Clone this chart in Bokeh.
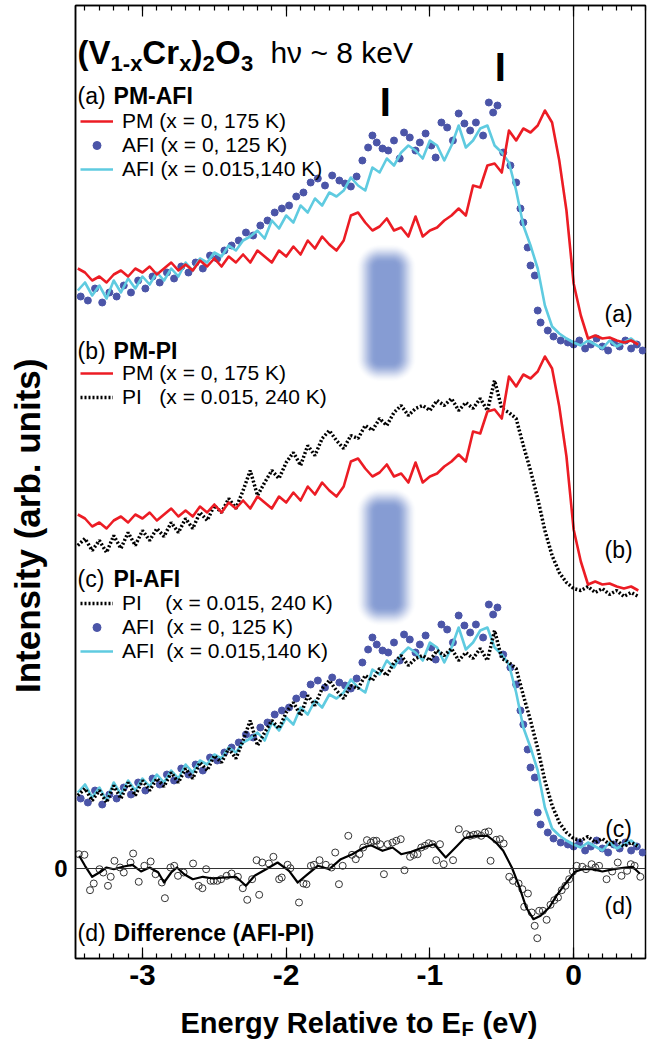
import numpy as np
from bokeh.plotting import figure
from bokeh.layouts import column
from bokeh.models import (Range1d, LinearAxis, FixedTicker, SingleIntervalTicker, Label,
                          Legend, LegendItem, Span)
from bokeh.embed import file_html
from bokeh.resources import INLINE

# ---------------- data ----------------
# common energy grid (eV) for the line spectra
E_GRID = np.round(np.arange(-3.45, 0.451, 0.05), 2)

# PM (x = 0, 175 K) intensity above its own background
PM_I = [0.74, 0.70, 0.62, 0.66, 0.60, 0.68, 0.72, 0.66, 0.74, 0.70,
        0.76, 0.68, 0.74, 0.80, 0.72, 0.78, 0.72, 0.82, 0.76, 0.84,
        0.76, 0.86, 0.80, 0.88, 0.80, 0.92, 0.86, 0.80, 0.92, 0.86,
        0.96, 0.88, 1.02, 0.94, 1.06, 0.98, 0.92, 1.02, 1.27, 1.30,
        1.20, 1.12, 1.16, 1.24, 1.12, 1.15, 1.06, 1.26, 1.06, 1.12,
        1.15, 1.22, 1.27, 1.34, 1.27, 1.57, 1.55, 1.77, 1.79, 1.70,
        2.12, 2.02, 2.14, 2.10, 2.17, 2.32, 2.20, 1.82, 1.32, 0.59,
        0.27, 0.04, 0.07, 0.04, 0.05, 0.02, 0.00, 0.02, -0.02]

# AFI (x = 0.015, 140 K)
AFI015_I = [0.52, 0.60, 0.47, 0.57, 0.44, 0.62, 0.50, 0.64, 0.54, 0.66,
            0.58, 0.70, 0.62, 0.74, 0.66, 0.80, 0.72, 0.84, 0.80, 0.90,
            0.86, 0.97, 0.92, 1.02, 1.06, 1.12, 1.04, 1.22, 1.14, 1.27,
            1.20, 1.37, 1.30, 1.44, 1.37, 1.50, 1.46, 1.52, 1.65, 1.57,
            1.52, 1.75, 1.70, 1.84, 1.77, 1.90, 1.97, 1.92, 1.84, 2.02,
            1.97, 1.82, 1.97, 2.17, 1.95, 2.02, 2.14, 2.17, 1.97, 1.90,
            1.80, 1.52, 1.17, 0.97, 0.74, 0.37, 0.16, 0.09, 0.04, 0.00,
            -0.03, 0.02, -0.02, -0.06, 0.02, -0.04, 0.00, 0.04, -0.02]

# PI (x = 0.015, 240 K)
PI_I = [0.45, 0.52, 0.40, 0.50, 0.38, 0.55, 0.42, 0.58, 0.45, 0.60,
        0.50, 0.62, 0.54, 0.68, 0.58, 0.72, 0.62, 0.78, 0.70, 0.85,
        0.78, 0.92, 0.82, 1.00, 1.20, 0.95, 1.08, 1.20, 1.12, 1.28,
        1.38, 1.25, 1.45, 1.35, 1.52, 1.60, 1.50, 1.42, 1.55, 1.52,
        1.65, 1.60, 1.72, 1.65, 1.78, 1.85, 1.75, 1.82, 1.85, 1.80,
        1.90, 1.85, 1.92, 1.80, 1.88, 1.82, 1.92, 1.80, 2.10, 1.82,
        1.78, 1.72, 1.45, 1.20, 0.92, 0.60, 0.35, 0.18, 0.08, 0.02,
        0.00, 0.04, -0.02, 0.02, -0.04, 0.00, -0.06, -0.02, -0.06]

# AFI (x = 0, 125 K) points
AFI0_E = [-3.43, -3.38, -3.33, -3.28, -3.23, -3.18, -3.13, -3.08, -3.03, -2.98,
          -2.93, -2.88, -2.83, -2.78, -2.73, -2.68, -2.63, -2.58, -2.53, -2.48,
          -2.43, -2.38, -2.33, -2.28, -2.23, -2.18, -2.13, -2.08, -2.03, -1.98,
          -1.93, -1.88, -1.83, -1.78, -1.73, -1.68, -1.63, -1.59, -1.55, -1.51,
          -1.47, -1.43, -1.40, -1.37, -1.33, -1.29, -1.25, -1.21, -1.18, -1.14,
          -1.10, -1.07, -1.03, -0.99, -0.96, -0.92, -0.88, -0.84, -0.80, -0.76,
          -0.72, -0.68, -0.63, -0.59, -0.56, -0.53, -0.49, -0.44, -0.40, -0.37,
          -0.35, -0.32, -0.30, -0.27, -0.25, -0.23, -0.18, -0.14, -0.09, -0.04,
          0.00, 0.04, 0.08, 0.12, 0.16, 0.20, 0.24, 0.28, 0.32, 0.36,
          0.40, 0.44, 0.48]
AFI0_I = [0.46, 0.42, 0.54, 0.40, 0.50, 0.46, 0.57, 0.50, 0.62, 0.54,
          0.66, 0.60, 0.70, 0.64, 0.76, 0.70, 0.80, 0.74, 0.87, 0.84,
          0.92, 0.97, 1.02, 1.10, 1.07, 1.17, 1.22, 1.30, 1.34, 1.37,
          1.46, 1.50, 1.60, 1.64, 1.57, 1.67, 1.62, 1.59, 1.56, 1.66,
          1.82, 1.95, 2.07, 2.00, 1.94, 1.92, 2.02, 1.84, 2.10, 2.05,
          1.92, 2.00, 2.09, 1.97, 1.85, 2.20, 2.15, 2.02, 2.29, 2.19,
          2.12, 2.20, 2.07, 2.40, 2.30, 2.37, 1.90, 1.77, 1.60, 1.34,
          1.20, 0.95, 0.77, 0.67, 0.32, 0.20, 0.12, 0.06, 0.02, 0.00,
          -0.02, 0.02, -0.06, -0.02, 0.04, -0.04, -0.08, 0.00, -0.04, 0.02,
          -0.06, -0.02, -0.08]

# (d) difference AFI - PI : raw points
DIFF_E = [-3.443, -3.404, -3.365, -3.339, -3.299, -3.273, -3.240, -3.221, -3.195, -3.156,
          -3.130, -3.083, -3.065, -3.026, -2.987, -2.943, -2.909, -2.865, -2.844, -2.805,
          -2.779, -2.753, -2.714, -2.648, -2.609, -2.583, -2.557, -2.526, -2.505, -2.479,
          -2.453, -2.414, -2.380, -2.336, -2.302, -2.271, -2.237, -2.206, -2.188, -2.167,
          -2.120, -2.089, -2.049, -2.031, -1.990, -1.971, -1.911, -1.880, -1.859, -1.828,
          -1.807, -1.768, -1.724, -1.685, -1.659, -1.633, -1.607, -1.568, -1.542, -1.516,
          -1.490, -1.464, -1.438, -1.411, -1.391, -1.372, -1.346, -1.320, -1.294, -1.260,
          -1.234, -1.203, -1.177, -1.138, -1.112, -1.086, -1.060, -1.034, -1.008, -0.982,
          -0.956, -0.930, -0.904, -0.839, -0.799, -0.747, -0.721, -0.695, -0.669, -0.643,
          -0.617, -0.591, -0.578, -0.539, -0.513, -0.487, -0.448, -0.422, -0.383, -0.357,
          -0.344, -0.318, -0.292, -0.271, -0.253, -0.240, -0.214, -0.188, -0.161, -0.135,
          -0.109, -0.083, -0.057, -0.031, -0.005, 0.021, 0.060, 0.086, 0.125, 0.151,
          0.177, 0.229, 0.268, 0.307, 0.333, 0.372, 0.398, 0.424, 0.464]
DIFF_I = [0.143, 0.137, -0.217, -0.150, -0.007, -0.040, -0.173, -0.083, 0.077, 0.010,
          -0.040, 0.060, 0.150, -0.133, 0.027, 0.070, -0.057, -0.140, -0.297, 0.010,
          0.027, -0.073, -0.040, 0.050, -0.173, -0.197, -0.007, -0.123, -0.123, -0.123,
          -0.107, -0.073, -0.050, -0.083, -0.197, -0.313, -0.107, 0.083, -0.263, 0.060,
          0.050, 0.117, -0.107, -0.090, 0.037, 0.003, -0.340, -0.150, -0.157, 0.027,
          0.037, 0.083, 0.037, 0.010, 0.160, -0.157, 0.027, 0.327, 0.137, 0.093,
          0.143, 0.210, 0.283, 0.260, 0.277, 0.277, 0.243, -0.057, 0.243, 0.260,
          0.277, 0.293, -0.017, 0.117, 0.137, 0.143, 0.210, 0.227, 0.253, 0.243,
          0.083, 0.243, 0.043, 0.083, 0.393, 0.343, 0.327, 0.337, 0.343, 0.327,
          0.360, 0.370, 0.077, 0.287, 0.293, 0.250, -0.083, -0.123, -0.150, -0.207,
          -0.383, -0.250, -0.440, -0.573, -0.697, -0.423, -0.423, -0.513, -0.363, -0.317,
          -0.290, -0.217, -0.173, -0.107, -0.030, 0.027, 0.017, -0.007, 0.043, 0.010,
          0.027, -0.107, -0.030, 0.060, -0.073, -0.023, 0.043, 0.027, -0.083]

# (d) smoothed difference
SMOOTH_E = [-3.44, -3.40, -3.35, -3.30, -3.25, -3.20, -3.13, -3.07, -3.01, -2.95,
            -2.89, -2.85, -2.80, -2.76, -2.71, -2.65, -2.58, -2.51, -2.43, -2.35,
            -2.28, -2.22, -2.14, -2.06, -1.98, -1.92, -1.85, -1.78, -1.70, -1.62,
            -1.54, -1.46, -1.41, -1.33, -1.26, -1.20, -1.13, -1.05, -0.97, -0.89,
            -0.81, -0.76, -0.68, -0.60, -0.54, -0.49, -0.43, -0.38, -0.33, -0.28,
            -0.23, -0.17, -0.12, -0.06, 0.01, 0.06, 0.13, 0.20, 0.28, 0.36,
            0.41, 0.46]
SMOOTH_I = [0.127, 0.027, -0.083, -0.040, 0.010, -0.007, 0.020, 0.037, -0.030, 0.010,
            -0.040, -0.140, -0.040, 0.010, -0.057, -0.107, -0.083, -0.100, -0.090, -0.083,
            -0.173, -0.073, -0.007, 0.060, -0.023, -0.140, -0.057, 0.027, -0.007, 0.093,
            0.143, 0.210, 0.233, 0.177, 0.210, 0.143, 0.167, 0.210, 0.243, 0.110,
            0.227, 0.303, 0.327, 0.327, 0.260, 0.177, 0.010, -0.173, -0.390, -0.507,
            -0.473, -0.390, -0.273, -0.157, -0.033, -0.007, -0.007, -0.030, -0.007, 0.010,
            0.017, -0.050]

# vertical offsets of the stacked panels
OFF_A = 5.26      # (a) PM-AFI
OFF_B_PM = 2.80   # (b) PM
OFF_B_PI = 2.78   # (b) PI
OFF_C_PI = 0.28   # (c) PI
OFF_C_AFI = 0.24  # (c) AFI

RED = "#ec1c24"
CYAN = "#5fcbe0"
BLUE = "#4b55a8"
FONT = "Liberation Sans"

# ---------------- main figure ----------------
p = figure(width=650, height=1000, x_range=Range1d(-3.466, 0.5), y_range=Range1d(-0.90, 8.63),
           output_backend="svg", toolbar_location=None,
           min_border_left=75, min_border_right=5, min_border_top=5, min_border_bottom=42)
p.xgrid.visible = False
p.ygrid.visible = False
p.outline_line_color = "black"
p.outline_line_width = 1.5
p.background_fill_color = "white"

xa = p.xaxis[0]
xa.ticker = SingleIntervalTicker(interval=1, num_minor_ticks=10)
xa.major_label_overrides = {-3: "-3", -2: "-2", -1: "-1", 0: "0"}
xa.major_label_text_font = FONT
xa.major_label_text_font_style = "bold"
xa.major_label_text_font_size = "30px"
xa.major_label_text_color = "black"
xa.major_label_standoff = 6
xa.major_tick_in = 11
xa.major_tick_out = 0
xa.minor_tick_in = 5
xa.minor_tick_out = 0
xa.axis_line_width = 1.5
xa.axis_line_color = "black"
xa.major_tick_line_width = 1.2
xa.minor_tick_line_width = 1.2

top = LinearAxis(ticker=SingleIntervalTicker(interval=1, num_minor_ticks=10),
                 major_label_overrides={-3: "", -2: "", -1: "", 0: ""},
                 major_label_text_font_size="1px", major_label_standoff=0,
                 major_tick_in=11, major_tick_out=0, minor_tick_in=5, minor_tick_out=0,
                 axis_line_width=1.5, major_tick_line_width=1.2, minor_tick_line_width=1.2)
p.add_layout(top, "above")

ya = p.yaxis[0]
ya.ticker = FixedTicker(ticks=[0])
ya.major_label_text_font = FONT
ya.major_label_text_font_style = "bold"
ya.major_label_text_font_size = "24px"
ya.major_label_text_color = "black"
ya.major_label_standoff = 8
ya.major_tick_in = 6
ya.major_tick_out = 0
ya.minor_tick_line_color = None
ya.axis_line_width = 1.5
# trailing no-break spaces shift the centred label down to where the reference has it
ya.axis_label = "Intensity (arb. units)" + "\u00a0" * 9
ya.axis_label_text_font = FONT
ya.axis_label_text_font_style = "bold"
ya.axis_label_text_font_size = "35px"
ya.axis_label_text_color = "black"
ya.axis_label_standoff = 4

# reference lines
p.add_layout(Span(location=0, dimension="height", line_color="black", line_width=1))
p.add_layout(Span(location=0, dimension="width", line_color="#333333", line_width=1))

# soft blue bars
def soft_bar(wpx, hpx, rad, fade):
    yy, xx = np.mgrid[0:hpx, 0:wpx] + 0.5
    dx = np.abs(xx - wpx / 2.0)
    dy = np.abs(yy - hpx / 2.0)
    qx = dx - (wpx / 2.0 - rad)
    qy = dy - (hpx / 2.0 - rad)
    outside = np.sqrt(np.maximum(qx, 0) ** 2 + np.maximum(qy, 0) ** 2)
    sdf = outside + np.minimum(np.maximum(qx, qy), 0) - rad
    a = np.clip(-sdf / fade, 0, 1)
    a = a * a * (3 - 2 * a)
    img = np.empty((hpx, wpx), dtype=np.uint32)
    v = img.view(dtype=np.uint8).reshape((hpx, wpx, 4))
    v[..., 0] = 118
    v[..., 1] = 143
    v[..., 2] = 205
    v[..., 3] = (a * 225).astype(np.uint8)
    return img

bar = soft_bar(61, 139, 24, 20)
p.image_rgba(image=[bar], x=-1.517, y=4.86, dw=0.425, dh=1.39)
p.image_rgba(image=[bar], x=-1.517, y=2.42, dw=0.425, dh=1.39)

E = E_GRID
pm = np.array(PM_I)
afi = np.array(AFI015_I)
pi = np.array(PI_I)
afi0 = np.array(AFI0_I)

# (a)
r_a_dot = p.scatter(AFI0_E, afi0 + OFF_A, size=7, color=BLUE)
r_a_cy = p.line(E, afi + OFF_A, line_color=CYAN, line_width=2.6, line_join="round")
r_a_pm = p.line(E, pm + OFF_A, line_color=RED, line_width=2.6, line_join="round")
# (b)
r_b_pi = p.line(E, pi + OFF_B_PI, line_color="black", line_width=3.5, line_dash="2 2")
r_b_pm = p.line(E, pm + OFF_B_PM, line_color=RED, line_width=2.6, line_join="round")
# (c)
r_c_dot = p.scatter(AFI0_E, afi0 + OFF_C_AFI, size=7, color=BLUE)
r_c_cy = p.line(E, afi + OFF_C_AFI, line_color=CYAN, line_width=2.6, line_join="round")
r_c_pi = p.line(E, pi + OFF_C_PI, line_color="black", line_width=3.5, line_dash="2 2")
# (d)
p.scatter(DIFF_E, DIFF_I, size=7, marker="circle", fill_alpha=0, line_color="#333333", line_width=1)
p.line(SMOOTH_E, SMOOTH_I, line_color="black", line_width=2.2, line_join="round")

# legends
def make_legend(items, y):
    lg = Legend(items=items, location=(5, y), padding=0, margin=0, spacing=0,
                label_standoff=9, glyph_width=33, glyph_height=20, label_height=20,
                label_text_font=FONT, label_text_font_size="21px", label_text_color="black",
                border_line_alpha=0, background_fill_alpha=0)
    p.add_layout(lg)

make_legend([LegendItem(label="PM (x = 0, 175 K)", renderers=[r_a_pm]),
             LegendItem(label="AFI (x = 0, 125 K)", renderers=[r_a_dot]),
             LegendItem(label="AFI (x = 0.015,140 K)", renderers=[r_a_cy])], 777)
make_legend([LegendItem(label="PM (x = 0, 175 K)", renderers=[r_b_pm]),
             LegendItem(label="PI   (x = 0.015, 240 K)", renderers=[r_b_pi])], 549)
make_legend([LegendItem(label="PI    (x = 0.015, 240 K)", renderers=[r_c_pi]),
             LegendItem(label="AFI  (x = 0, 125 K)", renderers=[r_c_dot]),
             LegendItem(label="AFI  (x = 0.015,140 K)", renderers=[r_c_cy])], 295)

def lab(fig, x, y, text, size, bold=False, align="left", baseline="middle"):
    fig.add_layout(Label(x=x, y=y, text=text, text_font=FONT, text_font_size=size,
                         text_font_style="bold" if bold else "normal", text_color="black",
                         text_align=align, text_baseline=baseline))

# title (V1-xCrx)2O3  hv ~ 8 keV
lab(p, -3.4516, 8.16, "(V", "33px", True, baseline="alphabetic")
lab(p, -3.222, 8.05, "1-x", "22px", True, baseline="alphabetic")
lab(p, -3.001, 8.16, "Cr", "33px", True, baseline="alphabetic")
lab(p, -2.744, 8.05, "x", "22px", True, baseline="alphabetic")
lab(p, -2.659, 8.16, ")", "33px", True, baseline="alphabetic")
lab(p, -2.582, 8.05, "2", "22px", True, baseline="alphabetic")
lab(p, -2.495, 8.16, "O", "33px", True, baseline="alphabetic")
lab(p, -2.315, 8.05, "3", "22px", True, baseline="alphabetic")
lab(p, -2.11, 8.16, "h\u03bd ~ 8 keV", "30px", False, baseline="alphabetic")

# panel headers
for yy, tag, name in [(7.73, "(a)", "PM-AFI"), (5.18, "(b)", "PM-PI"),
                      (2.90, "(c)", "PI-AFI"), (-0.64, "(d)", "Difference (AFI-PI)")]:
    lab(p, -3.452, yy, tag, "23px")
    lab(p, -3.201, yy, name, "23px", True)

# right-hand tags
for yy, tag in [(5.55, "(a)"), (3.19, "(b)"), (0.40, "(c)"), (-0.37, "(d)")]:
    lab(p, 0.313, yy, tag, "23px", align="center")

# feature markers
lab(p, -1.31, 7.67, "I", "40px", True, align="center")
lab(p, -0.51, 8.02, "I", "40px", True, align="center")

# ---------------- strip with the x-axis title (x in page pixels) ----------------
t = figure(width=650, height=42, x_range=Range1d(75, 645), y_range=Range1d(0, 42),
           output_backend="svg", toolbar_location=None, x_axis_type=None, y_axis_type=None,
           min_border_left=75, min_border_right=5, min_border_top=0, min_border_bottom=0)
t.outline_line_color = None
t.xgrid.visible = False
t.ygrid.visible = False
lab(t, 180, 20, "Energy Relative to E", "29px", True, baseline="alphabetic")
lab(t, 461, 14, "F", "20px", True, baseline="alphabetic")
lab(t, 482, 20, "(eV)", "29px", True, baseline="alphabetic")

layout = column(p, t, spacing=0)
open("out.html", "w").write(file_html(layout, INLINE))
